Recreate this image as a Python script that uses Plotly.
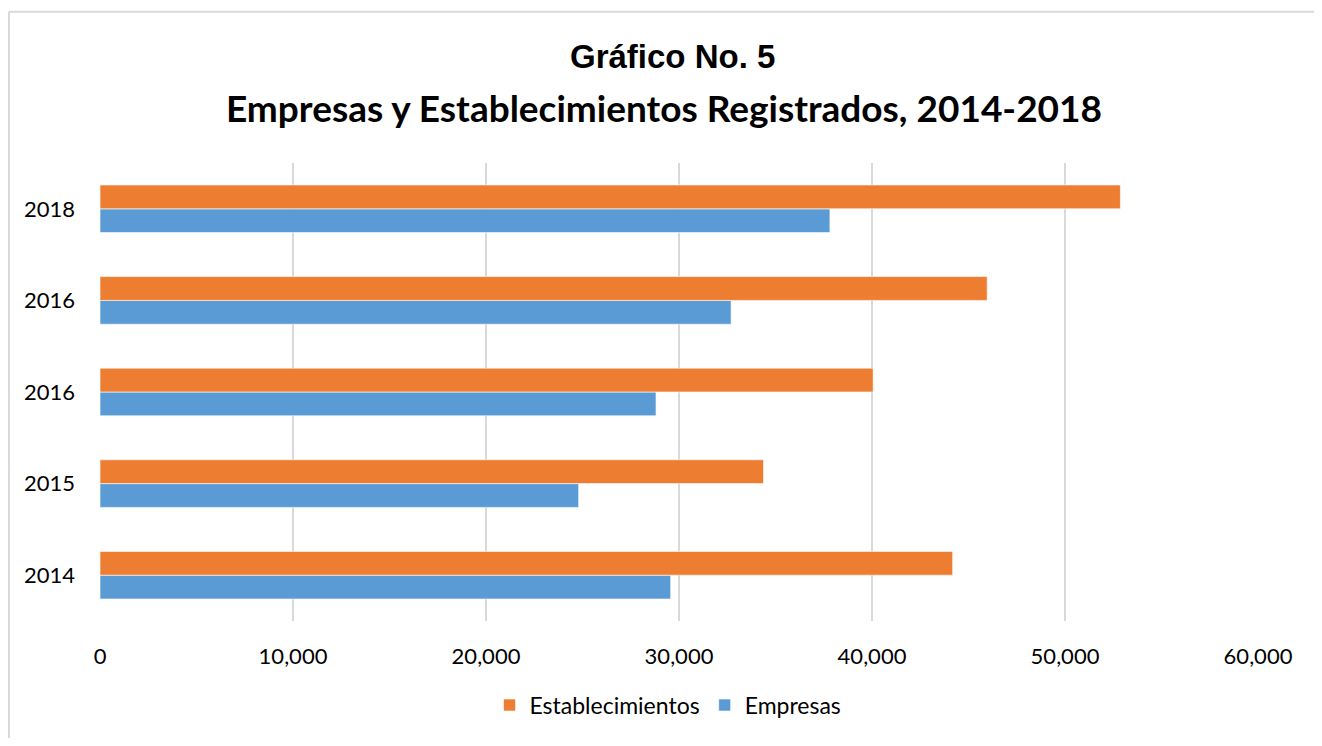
# coding: utf-8

import plotly.graph_objects as go

# datos (de abajo hacia arriba, como en el gráfico original)
anios = ["2014", "2015", "2016", "2016", "2018"]
empresas = [29570, 24800, 28810, 32700, 37820]
establecimientos = [44180, 34380, 40060, 45970, 52870]

x_ticks = [0, 10000, 20000, 30000, 40000, 50000, 60000]

posiciones = list(range(len(anios)))

# la página tiene un margen de 8px, se deja la figura un poco más chica
ANCHO, ALTO = 1306, 730
M_IZQ, M_DER, M_SUP, M_INF = 92, 56, 155, 112
ALTO_PLOT = ALTO - M_SUP - M_INF
ANCHO_PLOT = ANCHO - M_IZQ - M_DER


def pos_x(px):
    """pixel de la página -> coordenada de papel en x"""
    return (px - 8 - M_IZQ) / ANCHO_PLOT


def pos_y(px):
    """pixel de la página -> coordenada de papel en y"""
    return 1 + (M_SUP - (px - 8)) / ALTO_PLOT


fig = go.Figure()

# Empresas va primero para quedar debajo dentro de cada grupo
fig.add_trace(go.Bar(
    y=posiciones,
    x=empresas,
    orientation="h",
    name="Empresas",
    marker=dict(color="#5B9BD5", line=dict(color="rgba(255,255,255,0.6)", width=1)),
))
fig.add_trace(go.Bar(
    y=posiciones,
    x=establecimientos,
    orientation="h",
    name="Establecimientos",
    marker=dict(color="#ED7D31", line=dict(color="rgba(255,255,255,0.6)", width=1)),
))

fig.update_layout(
    width=ANCHO,
    height=ALTO,
    barmode="group",
    bargap=0.48,
    bargroupgap=0,
    plot_bgcolor="white",
    paper_bgcolor="white",
    margin=dict(l=M_IZQ, r=M_DER, t=M_SUP, b=M_INF),
    font=dict(family="Lato, Open Sans, sans-serif", size=20, color="#000000"),
    showlegend=True,
    legend=dict(
        orientation="h",
        x=pos_x(668), xanchor="center",
        y=pos_y(711), yanchor="middle",
        traceorder="reversed",
        font=dict(size=23),
        itemwidth=30,
    ),
)

fig.add_annotation(
    text="<b>Gráfico No. 5</b>",
    x=pos_x(672), y=pos_y(55), xref="paper", yref="paper",
    xanchor="center", yanchor="middle", showarrow=False,
    font=dict(family="Liberation Sans, Arial, sans-serif", size=33, color="#000000"),
)
fig.add_annotation(
    text="<b>Empresas y Establecimientos Registrados, 2014-2018</b>",
    x=pos_x(664), y=pos_y(107), xref="paper", yref="paper",
    xanchor="center", yanchor="middle", showarrow=False,
    font=dict(family="Lato, Open Sans, sans-serif", size=37, color="#000000"),
)

# borde exterior del gráfico
fig.add_shape(type="line", xref="paper", yref="paper",
              x0=pos_x(9), x1=pos_x(1340), y0=pos_y(10), y1=pos_y(10),
              line=dict(color="#D9D9D9", width=2))
fig.add_shape(type="line", xref="paper", yref="paper",
              x0=pos_x(9), x1=pos_x(9), y0=pos_y(10), y1=pos_y(760),
              line=dict(color="#D9D9D9", width=2))

fig.update_xaxes(
    range=[0, 60000],
    tickvals=x_ticks,
    tickformat=",d",
    showgrid=True,
    gridcolor="#D9D9D9",
    gridwidth=1.5,
    zeroline=False,
    showline=False,
    ticks="",
    ticklabelstandoff=20,
    tickfont=dict(size=22),
)
fig.update_yaxes(
    range=[-0.5, len(anios) - 0.5],
    tickvals=posiciones,
    ticktext=anios,
    showgrid=False,
    zeroline=False,
    showline=False,
    ticks="",
    ticklabelstandoff=24,
    tickfont=dict(size=22),
)

fig.write_html("out.html")
